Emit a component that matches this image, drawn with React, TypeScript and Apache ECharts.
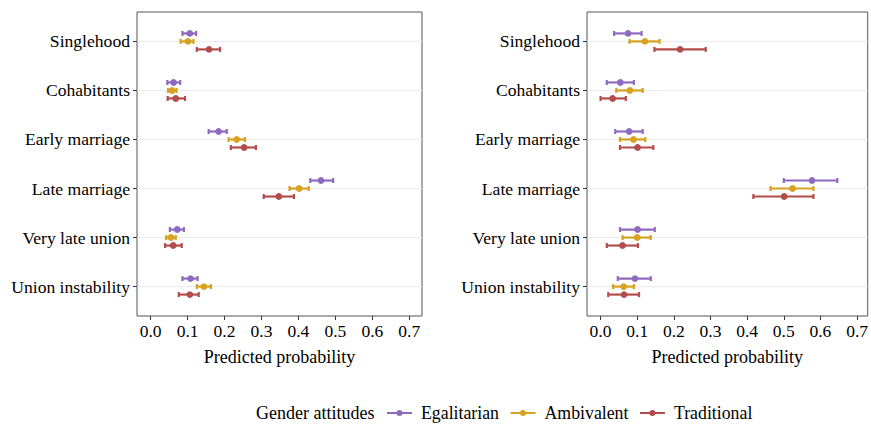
import React, { useEffect, useRef } from "react";
import * as echarts from "echarts";

const categories = [
  "Singlehood",
  "Cohabitants",
  "Early marriage",
  "Late marriage",
  "Very late union",
  "Union instability",
];
const groups = ["Egalitarian", "Ambivalent", "Traditional"];
const colors = ["#8E6BBE", "#D6A21F", "#B24D4B"];
const xTicks = [0, 0.1, 0.2, 0.3, 0.4, 0.5, 0.6, 0.7];

// Left panel: [estimate, lower, upper] per category
const leftEgalitarian = [
  [0.106, 0.086, 0.123],
  [0.062, 0.045, 0.08],
  [0.184, 0.157, 0.206],
  [0.461, 0.432, 0.494],
  [0.072, 0.052, 0.09],
  [0.108, 0.086, 0.127],
];
const leftAmbivalent = [
  [0.101, 0.081, 0.116],
  [0.058, 0.047, 0.07],
  [0.233, 0.211, 0.255],
  [0.402, 0.376, 0.428],
  [0.055, 0.042, 0.068],
  [0.144, 0.125, 0.163],
];
const leftTraditional = [
  [0.158, 0.125, 0.188],
  [0.068, 0.046, 0.093],
  [0.253, 0.217, 0.285],
  [0.347, 0.306, 0.388],
  [0.061, 0.039, 0.084],
  [0.106, 0.076, 0.13],
];

// Right panel
const rightEgalitarian = [
  [0.075, 0.037, 0.112],
  [0.054, 0.017, 0.091],
  [0.078, 0.04, 0.115],
  [0.577, 0.5, 0.646],
  [0.101, 0.053, 0.148],
  [0.094, 0.047, 0.137],
];
const rightAmbivalent = [
  [0.121, 0.079, 0.161],
  [0.08, 0.043, 0.115],
  [0.09, 0.053, 0.122],
  [0.524, 0.464, 0.581],
  [0.1, 0.06, 0.137],
  [0.063, 0.034, 0.091],
];
const rightTraditional = [
  [0.217, 0.147, 0.287],
  [0.033, 0.0, 0.069],
  [0.101, 0.053, 0.144],
  [0.501, 0.417, 0.581],
  [0.06, 0.017, 0.102],
  [0.064, 0.021, 0.105],
];

const FONT = "Liberation Serif";
const DODGE = 0.163;

function makeSeries(name: string, gi: number, rows: number[][], axisIndex: number) {
  const offset = (gi - 1) * DODGE;
  return {
    type: "custom",
    name,
    xAxisIndex: axisIndex,
    yAxisIndex: axisIndex,
    itemStyle: { color: colors[gi] },
    encode: { x: [0, 1, 2], y: 3 },
    data: rows.map((r, ci) => [r[0], r[1], r[2], ci]),
    z: 5,
    renderItem: (params: any, api: any) => {
      const v = api.value(0);
      const lo = api.value(1);
      const hi = api.value(2);
      const yv = api.value(3) + offset;
      const p = api.coord([v, yv]);
      const l = api.coord([lo, yv]);
      const h = api.coord([hi, yv]);
      const color = colors[gi];
      const cap = 2.5;
      const st = { stroke: color, lineWidth: 2.2 };
      return {
        type: "group",
        children: [
          { type: "line", shape: { x1: l[0], y1: l[1], x2: h[0], y2: h[1] }, style: st },
          { type: "line", shape: { x1: l[0], y1: l[1] - cap, x2: l[0], y2: l[1] + cap }, style: st },
          { type: "line", shape: { x1: h[0], y1: h[1] - cap, x2: h[0], y2: h[1] + cap }, style: st },
          { type: "circle", shape: { cx: p[0], cy: p[1], r: 3.4 }, style: { fill: color } },
        ],
      };
    },
  };
}

function gridLineSeries(axisIndex: number) {
  return {
    type: "custom",
    name: "grid" + axisIndex,
    xAxisIndex: axisIndex,
    yAxisIndex: axisIndex,
    silent: true,
    z: 1,
    encode: { x: 0, y: 1 },
    data: categories.map((_, ci) => [0, ci]),
    renderItem: (params: any, api: any) => {
      const cs = params.coordSys;
      const p = api.coord([0, api.value(1)]);
      return {
        type: "line",
        shape: { x1: cs.x, y1: p[1], x2: cs.x + cs.width, y2: p[1] },
        style: { stroke: "#EBEBEB", lineWidth: 1 },
      };
    },
  };
}

const iconPath = "path://M0,3 L25,3 L25,5 L0,5 Z M9.5,4 A3,3 0 1,1 15.5,4 A3,3 0 1,1 9.5,4 Z";

export default function App() {
  const ref = useRef<HTMLDivElement>(null);
  useEffect(() => {
    if (!ref.current) return;
    const chart = echarts.init(ref.current, undefined, { renderer: "svg" });
    const xAxisBase = (min: number, max: number, gridIndex: number) => ({
      type: "value",
      gridIndex,
      min,
      max,
      position: "bottom",
      name: "Predicted probability",
      nameLocation: "middle",
      nameGap: 32,
      nameTextStyle: { fontFamily: FONT, fontSize: 18, color: "#000" },
      axisLine: { show: false, onZero: false },
      axisTick: { show: true, length: 4, customValues: xTicks, lineStyle: { color: "#333" } },
      axisLabel: {
        customValues: xTicks,
        formatter: (v: number) => v.toFixed(1),
        fontFamily: FONT,
        fontSize: 17.5,
        color: "#000",
        margin: 6,
      },
      splitLine: { show: false },
    });
    const yAxisBase = (gridIndex: number) => ({
      type: "value",
      gridIndex,
      min: -0.6,
      max: 5.6,
      inverse: true,
      position: "left",
      axisLine: { show: false, onZero: false },
      axisTick: { show: true, length: 4, customValues: [0, 1, 2, 3, 4, 5], lineStyle: { color: "#333" } },
      axisLabel: {
        customValues: [0, 1, 2, 3, 4, 5],
        formatter: (v: number) => categories[Math.round(v)] ?? "",
        fontFamily: FONT,
        fontSize: 17.6,
        color: "#000",
        margin: 7,
        padding: [3, 0, 0, 0],
      },
      splitLine: { show: false },
    });
    chart.setOption({
      animation: false,
      textStyle: { fontFamily: FONT },
      grid: [
        { left: 137, top: 12, width: 285, height: 304, show: true, borderColor: "#555", borderWidth: 1, backgroundColor: "transparent" },
        { left: 587, top: 12, width: 283, height: 304, show: true, borderColor: "#555", borderWidth: 1, backgroundColor: "transparent" },
      ],
      xAxis: [xAxisBase(-0.037, 0.7345, 0), xAxisBase(-0.037, 0.729, 1)],
      yAxis: [yAxisBase(0), yAxisBase(1)],
      legend: {
        data: groups.map((g) => ({ name: g, icon: iconPath })),
        left: 387,
        top: 404,
        padding: 0,
        itemWidth: 25,
        itemHeight: 8,
        itemGap: 11.5,
        textStyle: { fontFamily: FONT, fontSize: 17.8, color: "#000", padding: [0, 0, 0, 4] },
        selectedMode: false,
      },
      graphic: [
        {
          type: "text",
          left: 256,
          top: 404,
          style: { text: "Gender attitudes", fontFamily: FONT, fontSize: 18, fill: "#000" },
        },
      ],
      series: [
        gridLineSeries(0),
        gridLineSeries(1),
        makeSeries(groups[0], 0, leftEgalitarian, 0),
        makeSeries(groups[1], 1, leftAmbivalent, 0),
        makeSeries(groups[2], 2, leftTraditional, 0),
        makeSeries(groups[0], 0, rightEgalitarian, 1),
        makeSeries(groups[1], 1, rightAmbivalent, 1),
        makeSeries(groups[2], 2, rightTraditional, 1),
      ],
    });
    return () => chart.dispose();
  }, []);
  return (
    <div
      ref={ref}
      style={{ position: "fixed", left: 0, top: 0, width: 871, height: 425, background: "#fff" }}
    />
  );
}
